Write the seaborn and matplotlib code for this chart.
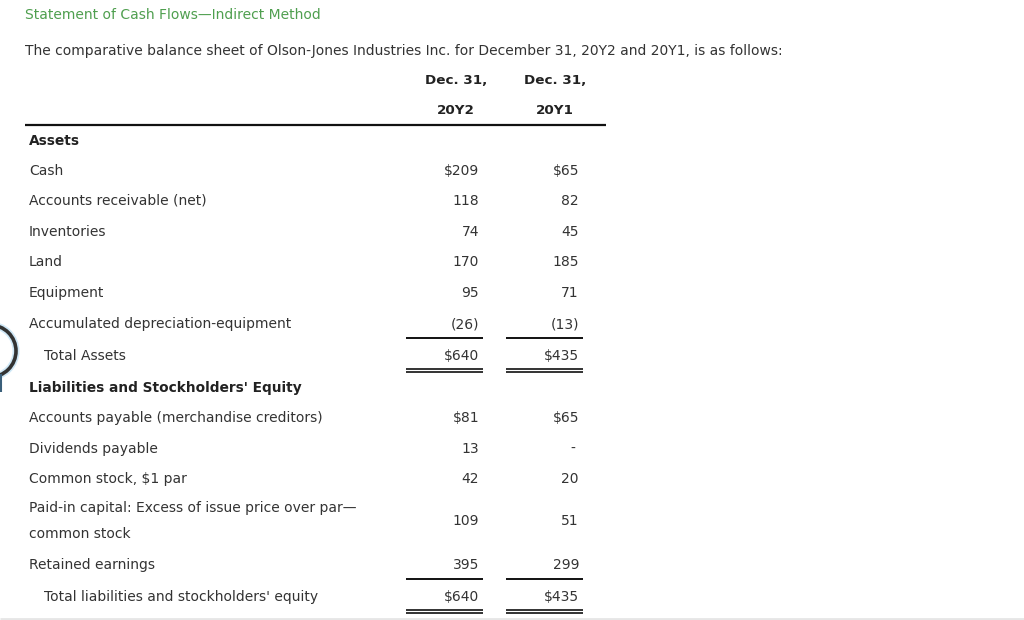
import seaborn as sns
import matplotlib.pyplot as plt
from matplotlib.patches import Circle

sns.set_theme(style="white")
plt.rcParams['font.family'] = ['DejaVu Sans']

title = "Statement of Cash Flows\u2014Indirect Method"
intro = ("The comparative balance sheet of Olson-Jones Industries Inc. for "
         "December 31, 20Y2 and 20Y1, is as follows:")
col_heads = [("Dec. 31,", "20Y2"), ("Dec. 31,", "20Y1")]

asset_labels = ["Cash", "Accounts receivable (net)", "Inventories", "Land",
                "Equipment", "Accumulated depreciation-equipment"]
asset_y2 = ["$209", "118", "74", "170", "95", "(26)"]
asset_y1 = ["$65", "82", "45", "185", "71", "(13)"]
total_assets = ("Total Assets", "$640", "$435")

liab_labels = ["Accounts payable (merchandise creditors)", "Dividends payable",
               "Common stock, $1 par",
               "Paid-in capital: Excess of issue price over par\u2014\ncommon stock",
               "Retained earnings"]
liab_y2 = ["$81", "13", "42", "109", "395"]
liab_y1 = ["$65", "-", "20", "51", "299"]
total_liab = ("Total liabilities and stockholders' equity", "$640", "$435")

# row positions in pixels (top of figure = 0)
asset_rows = [171, 201, 232, 262, 293, 324]
liab_rows = [418, 449, 479, 521, 565]

txt = "#333333"
fs = 10.0
c1_right, c2_right = 479, 579
c1_line, c2_line = (406, 483), (506, 583)

fig = plt.figure(figsize=(10.24, 6.2), dpi=100)
ax = fig.add_axes([0, 0, 1, 1])
ax.set_xlim(0, 1024)
ax.set_ylim(620, 0)
ax.axis("off")

ax.text(25, 15, title, color="#4f9f4f", fontsize=fs, va="center")
ax.text(25, 51, intro, color=txt, fontsize=fs, va="center")

for (h1, h2), cx in zip(col_heads, [456, 555]):
    ax.text(cx, 81, h1, color="#222222", fontsize=9.7, fontweight="bold", ha="center", va="center")
    ax.text(cx, 110, h2, color="#222222", fontsize=9.7, fontweight="bold", ha="center", va="center")
ax.hlines(125, 25, 606, color="#111111", lw=1.6)

ax.text(29, 141, "Assets", color="#222222", fontsize=9.9, fontweight="bold", va="center")
for lab, v2, v1, y in zip(asset_labels, asset_y2, asset_y1, asset_rows):
    ax.text(29, y, lab, color=txt, fontsize=fs, va="center")
    ax.text(c1_right, y, v2, color=txt, fontsize=fs, va="center", ha="right")
    ax.text(c2_right if v1 != "-" else 575, y, v1, color=txt, fontsize=fs, va="center", ha="right")
ax.text(44, 356, total_assets[0], color=txt, fontsize=fs, va="center")
ax.text(c1_right, 356, total_assets[1], color=txt, fontsize=fs, va="center", ha="right")
ax.text(c2_right, 356, total_assets[2], color=txt, fontsize=fs, va="center", ha="right")

ax.text(29, 388, "Liabilities and Stockholders' Equity", color="#222222", fontsize=9.9,
        fontweight="bold", va="center")
for lab, v2, v1, y in zip(liab_labels, liab_y2, liab_y1, liab_rows):
    ax.text(29, y, lab, color=txt, fontsize=fs, va="center", linespacing=2.05)
    ax.text(c1_right, y, v2, color=txt, fontsize=fs, va="center", ha="right")
    ax.text(c2_right if v1 != "-" else 575, y, v1, color=txt, fontsize=fs, va="center", ha="right")
ax.text(44, 597, total_liab[0], color=txt, fontsize=fs, va="center")
ax.text(c1_right, 597, total_liab[1], color=txt, fontsize=fs, va="center", ha="right")
ax.text(c2_right, 597, total_liab[2], color=txt, fontsize=fs, va="center", ha="right")

# rules under columns
for x0, x1 in [c1_line, c2_line]:
    ax.hlines([338, 579], x0, x1, color="#111111", lw=1.4)
    ax.hlines([369, 372, 610, 613], x0, x1, color="#111111", lw=1.2)

ax.hlines(618.5, 0, 1024, color="#e6e6e6", lw=2)

# partial circle on left edge
ax.add_patch(Circle((-10, 351), 26, fill=False, ec="#cfe8f7", lw=5, clip_on=True))
ax.add_patch(Circle((-10, 351), 26, fill=False, ec="#333333", lw=2.6, clip_on=True))
ax.vlines(1, 374, 392, color="#3a5f7a", lw=1.5)

fig.savefig("out.png", dpi=100, facecolor="white")
